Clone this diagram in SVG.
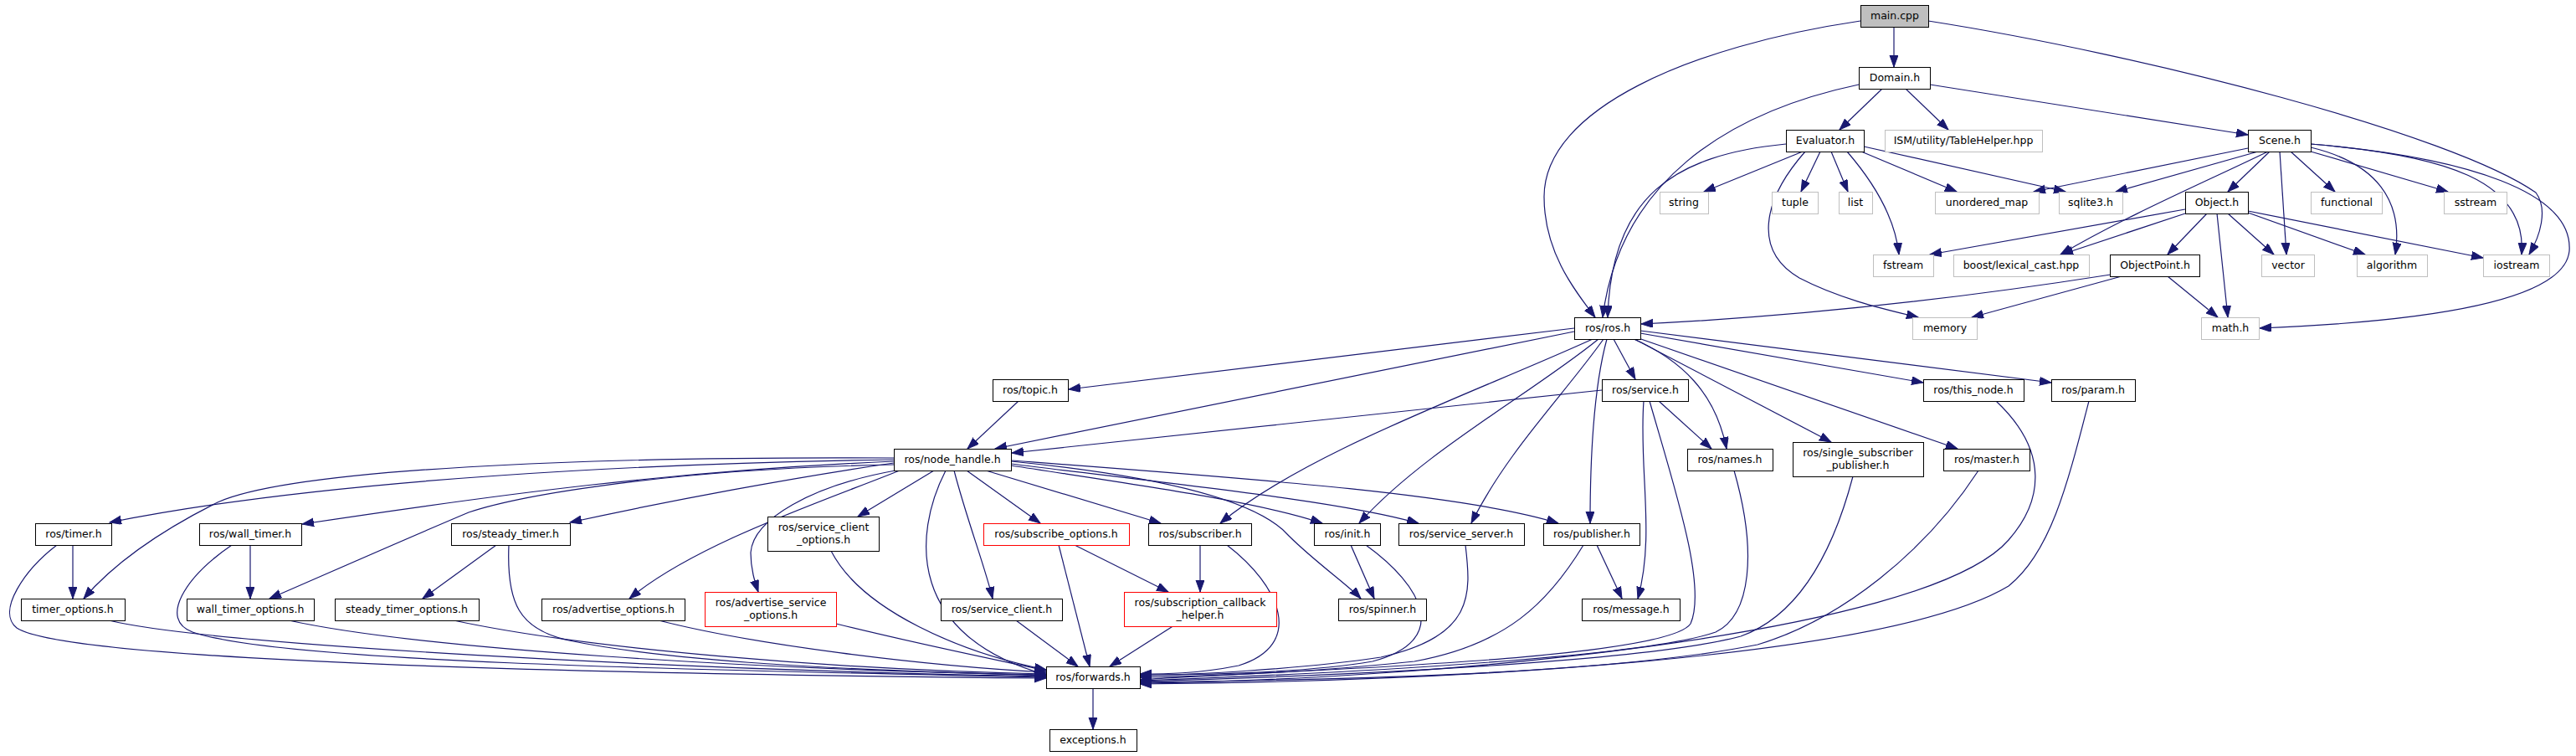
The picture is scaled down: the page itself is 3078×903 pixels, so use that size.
<svg xmlns="http://www.w3.org/2000/svg" width="3078" height="903" viewBox="0 0 3078 903">
<style>
rect{fill:#fff;stroke:#000;stroke-width:1}
.g rect{stroke:#bfbfbf}
.r rect{stroke:#ff0000}
.m rect{fill:#bfbfbf}
text{font-family:"DejaVu Sans",sans-serif;font-size:12.5px;text-anchor:middle;fill:#000}
#edges path{fill:none;stroke:#191970;stroke-width:1.2;marker-end:url(#ah)}
</style>
<defs>
<marker id="ah" markerUnits="userSpaceOnUse" markerWidth="16" markerHeight="12" refX="14" refY="5" orient="auto">
<path d="M0,0 L14,5 L0,10 Z" fill="#191970" stroke="#191970" stroke-width="1"/>
</marker>
</defs>
<rect x="0" y="0" width="3078" height="903" style="fill:#fff;stroke:none"/>
<g id="edges">
<path d="M2263,32 L2263,80"/>
<path d="M2223,25 C2020,55 1845,130 1845,235 C1845,300 1880,345 1906,379"/>
<path d="M2304,25 C2560,65 2930,160 3030,230 C3045,250 3035,282 3022,304"/>
<path d="M2249,106 L2198,155"/>
<path d="M2277,106 L2328,155"/>
<path d="M2306,101 L2686,161"/>
<path d="M2221,101 C2060,135 1935,220 1915,379"/>
<path d="M2134,172 C2000,185 1925,235 1921,379"/>
<path d="M2154,181 L2036,229"/>
<path d="M2157,181 C2105,240 2095,300 2150,332 C2200,358 2255,370 2292,379"/>
<path d="M2175,181 L2152,229"/>
<path d="M2188,181 L2208,229"/>
<path d="M2207,181 C2245,225 2265,265 2269,304"/>
<path d="M2224,181 L2338,229"/>
<path d="M2227,175 L2468,229"/>
<path d="M2686,177 L2430,229"/>
<path d="M2698,181 L2528,229"/>
<path d="M2710,181 C2640,215 2540,258 2462,304"/>
<path d="M2712,181 L2662,229"/>
<path d="M2724,181 L2732,304"/>
<path d="M2737,181 L2790,229"/>
<path d="M2761,176 C2840,195 2872,240 2862,304"/>
<path d="M2761,181 L2925,229"/>
<path d="M2761,172 C2920,185 3020,215 3013,304"/>
<path d="M2761,172 C2950,188 3075,230 3070,300 C3062,375 2800,388 2700,392"/>
<path d="M2611,250 L2306,304"/>
<path d="M2611,255 L2463,304"/>
<path d="M2637,255 L2590,304"/>
<path d="M2649,255 L2662,379"/>
<path d="M2662,255 L2717,304"/>
<path d="M2686,254 L2826,304"/>
<path d="M2686,252 L2967,308"/>
<path d="M2590,330 L2650,379"/>
<path d="M2535,330 L2356,379"/>
<path d="M2522,328 C2350,355 2150,378 1961,387"/>
<path d="M1881,392 L1277,465"/>
<path d="M1881,396 L1189,536"/>
<path d="M1903,405 C1760,470 1560,540 1458,625"/>
<path d="M1910,405 C1830,470 1700,540 1624,625"/>
<path d="M1916,405 C1870,470 1800,540 1758,625"/>
<path d="M1920,405 C1905,460 1900,540 1900,625"/>
<path d="M1928,405 L1954,453"/>
<path d="M1950,404 C2010,430 2050,470 2063,536"/>
<path d="M1951,404 L2188,528"/>
<path d="M1955,403 L2339,536"/>
<path d="M1960,398 L2298,457"/>
<path d="M1960,395 L2451,457"/>
<path d="M1217,479 L1156,536"/>
<path d="M1914,466 L1209,541"/>
<path d="M1982,479 L2045,536"/>
<path d="M1964,479 C1958,560 1978,640 1957,715"/>
<path d="M1971,479 C2000,580 2040,700 2020,745 C1990,790 1500,802 1362,812"/>
<path d="M2072,562 C2100,660 2092,735 2050,755 C1950,790 1500,808 1362,813"/>
<path d="M2214,569 C2190,660 2150,735 2080,760 C1950,795 1500,810 1362,814"/>
<path d="M2364,562 C2300,660 2200,740 2100,770 C1900,810 1500,813 1362,815"/>
<path d="M2385,479 C2450,540 2440,600 2400,645 C2300,760 1700,812 1362,816"/>
<path d="M2496,479 C2470,580 2450,660 2400,700 C2250,790 1700,814 1362,817"/>
<path d="M1908,651 L1938,715"/>
<path d="M1892,651 C1850,720 1800,770 1690,790 C1550,805 1420,808 1362,809"/>
<path d="M1751,651 C1758,710 1762,760 1650,785 C1550,800 1420,806 1362,807"/>
<path d="M1632,651 C1700,700 1735,765 1640,790 C1550,805 1420,806 1362,806"/>
<path d="M1614,651 L1642,715"/>
<path d="M1208,551 C1400,570 1505,600 1540,640 C1570,670 1612,700 1626,715"/>
<path d="M1434,651 L1434,707"/>
<path d="M1466,651 C1530,700 1560,770 1480,795 C1430,805 1390,805 1362,805"/>
<path d="M1284,651 L1396,707"/>
<path d="M1265,651 L1302,796"/>
<path d="M1403,747 L1326,796"/>
<path d="M1214,741 L1288,796"/>
<path d="M1130,562 C1090,640 1085,760 1250,806"/>
<path d="M1140,562 C1155,620 1178,680 1186,715"/>
<path d="M1155,562 L1243,625"/>
<path d="M1178,562 L1387,625"/>
<path d="M1208,556 C1350,578 1500,598 1580,625"/>
<path d="M1208,554 C1400,578 1600,598 1695,625"/>
<path d="M1208,550 C1500,572 1750,590 1862,625"/>
<path d="M1116,562 L1025,617"/>
<path d="M1068,549 C800,553 400,570 131,624"/>
<path d="M1068,551 C800,563 600,590 361,626"/>
<path d="M1068,553 C950,570 800,598 681,624"/>
<path d="M1068,547 C700,545 350,560 260,600 C180,640 130,680 100,715"/>
<path d="M1068,555 C800,560 620,592 560,612 C470,650 380,690 322,715"/>
<path d="M1075,562 C980,600 830,650 752,715"/>
<path d="M1070,562 C970,580 900,620 897,660 C897,680 902,695 906,707"/>
<path d="M87,651 L87,715"/>
<path d="M68,651 C30,680 -5,730 20,750 C80,790 700,805 1250,810"/>
<path d="M299,651 L299,715"/>
<path d="M277,651 C220,690 190,740 230,755 C330,790 800,800 1250,809"/>
<path d="M593,651 L505,715"/>
<path d="M608,651 C605,720 620,752 680,765 C800,790 1000,800 1250,807"/>
<path d="M130,741 C250,770 800,800 1250,808"/>
<path d="M345,741 C500,775 900,800 1250,806"/>
<path d="M542,741 C700,775 1000,800 1250,805"/>
<path d="M787,741 C900,770 1100,795 1250,803"/>
<path d="M999,745 C1100,770 1200,790 1250,801"/>
<path d="M993,658 C1030,730 1150,780 1250,800"/>
<path d="M1306,822 L1306,871"/>
</g>
<g id="main" class="m"><rect x="2223.5" y="6.5" width="81" height="26"/><text x="2264" y="23">main.cpp</text></g>
<g id="domain"><rect x="2221.5" y="80.5" width="85" height="26"/><text x="2264" y="97">Domain.h</text></g>
<g id="evaluator"><rect x="2134.5" y="155.5" width="93" height="26"/><text x="2181" y="172">Evaluator.h</text></g>
<g id="tablehelper" class="g"><rect x="2252.5" y="155.5" width="188" height="26"/><text x="2346" y="172">ISM/utility/TableHelper.hpp</text></g>
<g id="scene"><rect x="2686.5" y="155.5" width="75" height="26"/><text x="2724" y="172">Scene.h</text></g>
<g id="string" class="g"><rect x="1983.5" y="229.5" width="58" height="26"/><text x="2012" y="246">string</text></g>
<g id="tuple" class="g"><rect x="2117.5" y="229.5" width="55" height="26"/><text x="2145" y="246">tuple</text></g>
<g id="list" class="g"><rect x="2197.5" y="229.5" width="40" height="26"/><text x="2217" y="246">list</text></g>
<g id="unordered_map" class="g"><rect x="2312.5" y="229.5" width="124" height="26"/><text x="2374" y="246">unordered_map</text></g>
<g id="sqlite3" class="g"><rect x="2460.5" y="229.5" width="76" height="26"/><text x="2498" y="246">sqlite3.h</text></g>
<g id="object"><rect x="2611.5" y="229.5" width="75" height="26"/><text x="2649" y="246">Object.h</text></g>
<g id="functional" class="g"><rect x="2761.5" y="229.5" width="85" height="26"/><text x="2804" y="246">functional</text></g>
<g id="sstream" class="g"><rect x="2920.5" y="229.5" width="75" height="26"/><text x="2958" y="246">sstream</text></g>
<g id="fstream" class="g"><rect x="2238.5" y="304.5" width="72" height="26"/><text x="2274" y="321">fstream</text></g>
<g id="boost" class="g"><rect x="2334.5" y="304.5" width="162" height="26"/><text x="2415" y="321">boost/lexical_cast.hpp</text></g>
<g id="objectpoint"><rect x="2521.5" y="304.5" width="107" height="26"/><text x="2575" y="321">ObjectPoint.h</text></g>
<g id="vector" class="g"><rect x="2702.5" y="304.5" width="63" height="26"/><text x="2734" y="321">vector</text></g>
<g id="algorithm" class="g"><rect x="2816.5" y="304.5" width="84" height="26"/><text x="2858" y="321">algorithm</text></g>
<g id="iostream" class="g"><rect x="2967.5" y="304.5" width="79" height="26"/><text x="3007" y="321">iostream</text></g>
<g id="ros"><rect x="1881.5" y="379.5" width="79" height="26"/><text x="1921" y="396">ros/ros.h</text></g>
<g id="memory" class="g"><rect x="2285.5" y="379.5" width="77" height="26"/><text x="2324" y="396">memory</text></g>
<g id="math" class="g"><rect x="2630.5" y="379.5" width="69" height="26"/><text x="2665" y="396">math.h</text></g>
<g id="topic"><rect x="1186.5" y="453.5" width="90" height="26"/><text x="1231" y="470">ros/topic.h</text></g>
<g id="service"><rect x="1914.5" y="453.5" width="103" height="26"/><text x="1966" y="470">ros/service.h</text></g>
<g id="this_node"><rect x="2298.5" y="453.5" width="120" height="26"/><text x="2358" y="470">ros/this_node.h</text></g>
<g id="param"><rect x="2451.5" y="453.5" width="100" height="26"/><text x="2501" y="470">ros/param.h</text></g>
<g id="node_handle"><rect x="1068.5" y="536.5" width="140" height="26"/><text x="1138" y="553">ros/node_handle.h</text></g>
<g id="names"><rect x="2016.5" y="536.5" width="102" height="26"/><text x="2067" y="553">ros/names.h</text></g>
<g id="single_subscriber_publisher"><rect x="2142.5" y="528.5" width="156" height="41"/><text x="2220" y="545">ros/single_subscriber</text><text x="2220" y="559.5">_publisher.h</text></g>
<g id="master"><rect x="2322.5" y="536.5" width="103" height="26"/><text x="2374" y="553">ros/master.h</text></g>
<g id="timer"><rect x="42.5" y="625.5" width="91" height="26"/><text x="88" y="642">ros/timer.h</text></g>
<g id="wall_timer"><rect x="238.5" y="625.5" width="122" height="26"/><text x="299" y="642">ros/wall_timer.h</text></g>
<g id="steady_timer"><rect x="539.5" y="625.5" width="142" height="26"/><text x="610" y="642">ros/steady_timer.h</text></g>
<g id="service_client_options"><rect x="917.5" y="617.5" width="133" height="41"/><text x="984" y="634">ros/service_client</text><text x="984" y="648.5">_options.h</text></g>
<g id="subscribe_options" class="r"><rect x="1175.5" y="625.5" width="174" height="26"/><text x="1262" y="642">ros/subscribe_options.h</text></g>
<g id="subscriber"><rect x="1372.5" y="625.5" width="123" height="26"/><text x="1434" y="642">ros/subscriber.h</text></g>
<g id="init"><rect x="1570.5" y="625.5" width="79" height="26"/><text x="1610" y="642">ros/init.h</text></g>
<g id="service_server"><rect x="1671.5" y="625.5" width="150" height="26"/><text x="1746" y="642">ros/service_server.h</text></g>
<g id="publisher"><rect x="1844.5" y="625.5" width="115" height="26"/><text x="1902" y="642">ros/publisher.h</text></g>
<g id="timer_options"><rect x="25.5" y="715.5" width="124" height="26"/><text x="87" y="732">timer_options.h</text></g>
<g id="wall_timer_options"><rect x="223.5" y="715.5" width="152" height="26"/><text x="299" y="732">wall_timer_options.h</text></g>
<g id="steady_timer_options"><rect x="400.5" y="715.5" width="172" height="26"/><text x="486" y="732">steady_timer_options.h</text></g>
<g id="advertise_options"><rect x="647.5" y="715.5" width="171" height="26"/><text x="733" y="732">ros/advertise_options.h</text></g>
<g id="advertise_service_options" class="r"><rect x="842.5" y="707.5" width="157" height="41"/><text x="921" y="724">ros/advertise_service</text><text x="921" y="738.5">_options.h</text></g>
<g id="service_client"><rect x="1124.5" y="715.5" width="145" height="26"/><text x="1197" y="732">ros/service_client.h</text></g>
<g id="subscription_callback_helper" class="r"><rect x="1343.5" y="707.5" width="182" height="41"/><text x="1434" y="724">ros/subscription_callback</text><text x="1434" y="738.5">_helper.h</text></g>
<g id="spinner"><rect x="1599.5" y="715.5" width="105" height="26"/><text x="1652" y="732">ros/spinner.h</text></g>
<g id="message"><rect x="1890.5" y="715.5" width="117" height="26"/><text x="1949" y="732">ros/message.h</text></g>
<g id="forwards"><rect x="1250.5" y="796.5" width="112" height="26"/><text x="1306" y="813">ros/forwards.h</text></g>
<g id="exceptions"><rect x="1254.5" y="871.5" width="104" height="26"/><text x="1306" y="888">exceptions.h</text></g>
</svg>
